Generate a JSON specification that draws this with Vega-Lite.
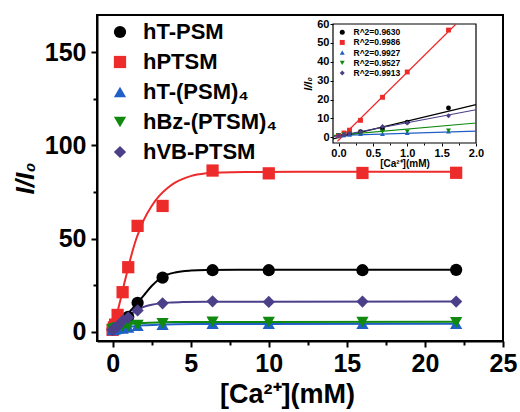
{
  "$schema": "https://vega.github.io/schema/vega-lite/v6.json",
  "width": 406,
  "height": 326,
  "autosize": {"type": "none"},
  "padding": {"left": 97, "top": 15, "right": 17, "bottom": 71},
  "background": "white",
  "config": {
    "font": "Liberation Sans",
    "view": {"stroke": "black", "strokeWidth": 2},
    "axis": {"grid": false, "labelColor": "black", "titleColor": "black", "tickColor": "black", "domainColor": "black", "labelFontWeight": "bold", "titleFontWeight": "bold", "labelFlush": false, "labelOverlap": false},
    "legend": {"padding": 0, "labelColor": "black", "labelFontWeight": "bold"}
  },
  "datasets": {
    "pts": [
      {"s": "hT-PSM", "x": 0, "y": 1}, {"s": "hT-PSM", "x": 0.08, "y": 1.3}, {"s": "hT-PSM", "x": 0.16, "y": 2}, {"s": "hT-PSM", "x": 0.32, "y": 3}, {"s": "hT-PSM", "x": 0.64, "y": 4.4}, {"s": "hT-PSM", "x": 1.0, "y": 8}, {"s": "hT-PSM", "x": 1.6, "y": 15.5}, {"s": "hT-PSM", "x": 3.2, "y": 29}, {"s": "hT-PSM", "x": 6.4, "y": 33}, {"s": "hT-PSM", "x": 10, "y": 33}, {"s": "hT-PSM", "x": 16, "y": 33}, {"s": "hT-PSM", "x": 22, "y": 33.2},
      {"s": "hPTSM", "x": 0, "y": 1}, {"s": "hPTSM", "x": 0.08, "y": 2.3}, {"s": "hPTSM", "x": 0.16, "y": 3.8}, {"s": "hPTSM", "x": 0.32, "y": 9}, {"s": "hPTSM", "x": 0.64, "y": 21.2}, {"s": "hPTSM", "x": 1.0, "y": 34.6}, {"s": "hPTSM", "x": 1.6, "y": 56.8}, {"s": "hPTSM", "x": 3.2, "y": 67.5}, {"s": "hPTSM", "x": 6.4, "y": 86.5}, {"s": "hPTSM", "x": 10, "y": 85}, {"s": "hPTSM", "x": 16, "y": 85.2}, {"s": "hPTSM", "x": 22, "y": 85.3},
      {"s": "hT-(PSM)₄", "x": 0, "y": 1}, {"s": "hT-(PSM)₄", "x": 0.08, "y": 1.2}, {"s": "hT-(PSM)₄", "x": 0.16, "y": 1.4}, {"s": "hT-(PSM)₄", "x": 0.32, "y": 1.8}, {"s": "hT-(PSM)₄", "x": 0.64, "y": 1.8}, {"s": "hT-(PSM)₄", "x": 1.0, "y": 2.3}, {"s": "hT-(PSM)₄", "x": 1.6, "y": 3.2}, {"s": "hT-(PSM)₄", "x": 3.2, "y": 3.8}, {"s": "hT-(PSM)₄", "x": 6.4, "y": 4.3}, {"s": "hT-(PSM)₄", "x": 10, "y": 4.3}, {"s": "hT-(PSM)₄", "x": 16, "y": 4.3}, {"s": "hT-(PSM)₄", "x": 22, "y": 4.3},
      {"s": "hBz-(PTSM)₄", "x": 0, "y": 1.2}, {"s": "hBz-(PTSM)₄", "x": 0.08, "y": 1.5}, {"s": "hBz-(PTSM)₄", "x": 0.16, "y": 1.8}, {"s": "hBz-(PTSM)₄", "x": 0.32, "y": 2.2}, {"s": "hBz-(PTSM)₄", "x": 0.64, "y": 3.0}, {"s": "hBz-(PTSM)₄", "x": 1.0, "y": 3.0}, {"s": "hBz-(PTSM)₄", "x": 1.6, "y": 3.6}, {"s": "hBz-(PTSM)₄", "x": 3.2, "y": 4.5}, {"s": "hBz-(PTSM)₄", "x": 6.4, "y": 5.3}, {"s": "hBz-(PTSM)₄", "x": 10, "y": 5.2}, {"s": "hBz-(PTSM)₄", "x": 16, "y": 5.2}, {"s": "hBz-(PTSM)₄", "x": 22, "y": 5.0},
      {"s": "hVB-PTSM", "x": 0, "y": 1}, {"s": "hVB-PTSM", "x": 0.08, "y": 1.5}, {"s": "hVB-PTSM", "x": 0.16, "y": 2}, {"s": "hVB-PTSM", "x": 0.32, "y": 2.8}, {"s": "hVB-PTSM", "x": 0.64, "y": 5.8}, {"s": "hVB-PTSM", "x": 1.0, "y": 7.6}, {"s": "hVB-PTSM", "x": 1.6, "y": 11.4}, {"s": "hVB-PTSM", "x": 3.2, "y": 15.2}, {"s": "hVB-PTSM", "x": 6.4, "y": 16.3}, {"s": "hVB-PTSM", "x": 10, "y": 16}, {"s": "hVB-PTSM", "x": 16, "y": 16.2}, {"s": "hVB-PTSM", "x": 22, "y": 16.2}
    ],
    "crv": [
      {"s": "hT-PSM", "x": 0, "y": 0.5}, {"s": "hT-PSM", "x": 0.5, "y": 5}, {"s": "hT-PSM", "x": 1.0, "y": 9.8}, {"s": "hT-PSM", "x": 1.5, "y": 14.5}, {"s": "hT-PSM", "x": 2.0, "y": 19.5}, {"s": "hT-PSM", "x": 2.5, "y": 24.5}, {"s": "hT-PSM", "x": 3.0, "y": 28.3}, {"s": "hT-PSM", "x": 3.5, "y": 30.6}, {"s": "hT-PSM", "x": 4.0, "y": 31.8}, {"s": "hT-PSM", "x": 5.0, "y": 32.8}, {"s": "hT-PSM", "x": 6.0, "y": 33.1}, {"s": "hT-PSM", "x": 8.0, "y": 33.2}, {"s": "hT-PSM", "x": 22, "y": 33.2},
      {"s": "hPTSM", "x": 0, "y": 0.5}, {"s": "hPTSM", "x": 0.25, "y": 8.5}, {"s": "hPTSM", "x": 0.5, "y": 17}, {"s": "hPTSM", "x": 0.75, "y": 26}, {"s": "hPTSM", "x": 1.0, "y": 34.5}, {"s": "hPTSM", "x": 1.25, "y": 42.5}, {"s": "hPTSM", "x": 1.5, "y": 49.5}, {"s": "hPTSM", "x": 1.75, "y": 55}, {"s": "hPTSM", "x": 2.0, "y": 60}, {"s": "hPTSM", "x": 2.5, "y": 67.5}, {"s": "hPTSM", "x": 3.0, "y": 73}, {"s": "hPTSM", "x": 3.5, "y": 77}, {"s": "hPTSM", "x": 4.0, "y": 80}, {"s": "hPTSM", "x": 4.5, "y": 82}, {"s": "hPTSM", "x": 5.0, "y": 83.5}, {"s": "hPTSM", "x": 6.0, "y": 85}, {"s": "hPTSM", "x": 7.0, "y": 85.5}, {"s": "hPTSM", "x": 8.5, "y": 85.7}, {"s": "hPTSM", "x": 12, "y": 85.8}, {"s": "hPTSM", "x": 22, "y": 85.8},
      {"s": "hT-(PSM)₄", "x": 0, "y": 0.3}, {"s": "hT-(PSM)₄", "x": 0.5, "y": 1.6}, {"s": "hT-(PSM)₄", "x": 1.0, "y": 2.4}, {"s": "hT-(PSM)₄", "x": 1.5, "y": 3.0}, {"s": "hT-(PSM)₄", "x": 2.0, "y": 3.4}, {"s": "hT-(PSM)₄", "x": 3.0, "y": 3.8}, {"s": "hT-(PSM)₄", "x": 4.0, "y": 4.0}, {"s": "hT-(PSM)₄", "x": 6.0, "y": 4.15}, {"s": "hT-(PSM)₄", "x": 22, "y": 4.2},
      {"s": "hBz-(PTSM)₄", "x": 0, "y": 2.3}, {"s": "hBz-(PTSM)₄", "x": 0.5, "y": 3.3}, {"s": "hBz-(PTSM)₄", "x": 1.0, "y": 4.0}, {"s": "hBz-(PTSM)₄", "x": 1.5, "y": 4.4}, {"s": "hBz-(PTSM)₄", "x": 2.0, "y": 4.7}, {"s": "hBz-(PTSM)₄", "x": 3.0, "y": 5.0}, {"s": "hBz-(PTSM)₄", "x": 4.0, "y": 5.15}, {"s": "hBz-(PTSM)₄", "x": 6.0, "y": 5.25}, {"s": "hBz-(PTSM)₄", "x": 22, "y": 5.3},
      {"s": "hVB-PTSM", "x": 0, "y": 0.5}, {"s": "hVB-PTSM", "x": 0.5, "y": 4.5}, {"s": "hVB-PTSM", "x": 1.0, "y": 8.3}, {"s": "hVB-PTSM", "x": 1.5, "y": 11.3}, {"s": "hVB-PTSM", "x": 2.0, "y": 13.3}, {"s": "hVB-PTSM", "x": 2.5, "y": 14.5}, {"s": "hVB-PTSM", "x": 3.0, "y": 15.2}, {"s": "hVB-PTSM", "x": 3.5, "y": 15.6}, {"s": "hVB-PTSM", "x": 4.5, "y": 15.9}, {"s": "hVB-PTSM", "x": 6.0, "y": 16.1}, {"s": "hVB-PTSM", "x": 22, "y": 16.2}
    ],
    "ipts": [
      {"f": "R^2=0.9630", "x": 0, "y": 1}, {"f": "R^2=0.9630", "x": 0.08, "y": 1.3}, {"f": "R^2=0.9630", "x": 0.16, "y": 2}, {"f": "R^2=0.9630", "x": 0.32, "y": 3}, {"f": "R^2=0.9630", "x": 0.64, "y": 4.4}, {"f": "R^2=0.9630", "x": 1.0, "y": 8}, {"f": "R^2=0.9630", "x": 1.6, "y": 15.5},
      {"f": "R^2=0.9986", "x": 0, "y": 1}, {"f": "R^2=0.9986", "x": 0.08, "y": 2.3}, {"f": "R^2=0.9986", "x": 0.16, "y": 3.8}, {"f": "R^2=0.9986", "x": 0.32, "y": 9}, {"f": "R^2=0.9986", "x": 0.64, "y": 21.2}, {"f": "R^2=0.9986", "x": 1.0, "y": 34.6}, {"f": "R^2=0.9986", "x": 1.6, "y": 56.8},
      {"f": "R^2=0.9927", "x": 0, "y": 1}, {"f": "R^2=0.9927", "x": 0.08, "y": 1.2}, {"f": "R^2=0.9927", "x": 0.16, "y": 1.4}, {"f": "R^2=0.9927", "x": 0.32, "y": 1.8}, {"f": "R^2=0.9927", "x": 0.64, "y": 1.8}, {"f": "R^2=0.9927", "x": 1.0, "y": 2.3}, {"f": "R^2=0.9927", "x": 1.6, "y": 3.2},
      {"f": "R^2=0.9527", "x": 0, "y": 1.2}, {"f": "R^2=0.9527", "x": 0.08, "y": 1.5}, {"f": "R^2=0.9527", "x": 0.16, "y": 1.8}, {"f": "R^2=0.9527", "x": 0.32, "y": 2.2}, {"f": "R^2=0.9527", "x": 0.64, "y": 3.0}, {"f": "R^2=0.9527", "x": 1.0, "y": 3.0}, {"f": "R^2=0.9527", "x": 1.6, "y": 3.6},
      {"f": "R^2=0.9913", "x": 0, "y": 1}, {"f": "R^2=0.9913", "x": 0.08, "y": 1.5}, {"f": "R^2=0.9913", "x": 0.16, "y": 2}, {"f": "R^2=0.9913", "x": 0.32, "y": 2.8}, {"f": "R^2=0.9913", "x": 0.64, "y": 5.8}, {"f": "R^2=0.9913", "x": 1.0, "y": 7.6}, {"f": "R^2=0.9913", "x": 1.6, "y": 11.4}
    ],
    "fit": [
      {"f": "R^2=0.9630", "x": -0.08, "y": -0.8}, {"f": "R^2=0.9630", "x": 2.0, "y": 17.3},
      {"f": "R^2=0.9986", "x": -0.015, "y": -2.1}, {"f": "R^2=0.9986", "x": 1.71, "y": 60},
      {"f": "R^2=0.9927", "x": -0.08, "y": 0.9}, {"f": "R^2=0.9927", "x": 2.0, "y": 3.3},
      {"f": "R^2=0.9527", "x": -0.08, "y": 0.9}, {"f": "R^2=0.9527", "x": 2.0, "y": 7.6},
      {"f": "R^2=0.9913", "x": -0.08, "y": 0.3}, {"f": "R^2=0.9913", "x": 2.0, "y": 14.6}
    ]
  },
  "layer": [
    {
      "data": {"name": "crv"},
      "mark": {"type": "line", "interpolate": "monotone", "strokeWidth": 2},
      "encoding": {
        "x": {"field": "x", "type": "quantitative", "scale": {"domain": [-1, 25], "nice": false, "zero": false},
          "axis": {"orient": "bottom", "values": [0, 2.5, 5, 7.5, 10, 12.5, 15, 17.5, 20, 22.5, 25], "labelExpr": "datum.value % 5 == 0 ? datum.label : ''", "tickSize": {"condition": {"test": "datum.value % 5 == 0", "value": 6}, "value": 4}, "tickWidth": 2, "domainWidth": 2, "labelFontSize": 25, "labelPadding": 4, "title": "[Ca²⁺](mM)", "titleFontSize": 27, "titlePadding": 5, "titleX": 190}},
        "y": {"field": "y", "type": "quantitative", "scale": {"domain": [-5, 170], "nice": false, "zero": false},
          "axis": {"orient": "left", "values": [0, 25, 50, 75, 100, 125, 150], "labelExpr": "datum.value % 50 == 0 ? datum.label : ''", "tickSize": {"condition": {"test": "datum.value % 50 == 0", "value": 6}, "value": 4}, "tickWidth": 2, "domainWidth": 2, "labelFontSize": 25, "labelPadding": 5, "title": "I/I₀", "titleFontSize": 26, "titleFontStyle": "italic", "titlePadding": 6}},
        "stroke": {"field": "s", "type": "nominal", "scale": {"domain": ["hT-PSM", "hPTSM", "hT-(PSM)₄", "hBz-(PTSM)₄", "hVB-PTSM"], "range": ["#000000", "#ee2b2b", "#1f5fc6", "#0f8a0f", "#4b3f8a"]}, "legend": null}
      }
    },
    {
      "data": {"name": "pts"},
      "mark": {"type": "point", "filled": true, "opacity": 1},
      "encoding": {
        "x": {"field": "x", "type": "quantitative", "scale": {"domain": [-1, 25], "nice": false, "zero": false}, "axis": null},
        "y": {"field": "y", "type": "quantitative", "scale": {"domain": [-5, 170], "nice": false, "zero": false}, "axis": null},
        "size": {"field": "s", "type": "nominal", "scale": {"domain": ["hT-PSM", "hPTSM", "hT-(PSM)₄", "hBz-(PTSM)₄", "hVB-PTSM"], "range": [150, 150, 150, 150, 210]}, "legend": null},
        "color": {"field": "s", "type": "nominal", "scale": {"domain": ["hT-PSM", "hPTSM", "hT-(PSM)₄", "hBz-(PTSM)₄", "hVB-PTSM"], "range": ["#000000", "#ee2b2b", "#1f5fc6", "#0f8a0f", "#4b3f8a"]},
          "legend": {"orient": "none", "legendX": 12, "legendY": 6, "title": null, "labelFontSize": 22, "symbolSize": 180, "rowPadding": 8, "labelOffset": 12, "labelLimit": 300}},
        "shape": {"field": "s", "type": "nominal", "scale": {"domain": ["hT-PSM", "hPTSM", "hT-(PSM)₄", "hBz-(PTSM)₄", "hVB-PTSM"], "range": ["circle", "square", "triangle-up", "triangle-down", "diamond"]}}
      }
    },
    {
      "data": {"values": [{}]},
      "mark": {"type": "rect", "filled": false, "stroke": "black", "strokeWidth": 1.2},
      "encoding": {
        "x": {"datum": -0.08, "type": "quantitative", "scale": {"domain": [-0.08, 2.0], "range": [236, 379], "nice": false, "zero": false},
          "axis": {"orient": "bottom", "offset": -198, "domain": false, "values": [0, 0.25, 0.5, 0.75, 1, 1.25, 1.5, 1.75, 2], "labelExpr": "(datum.value * 2) % 1 == 0 ? format(datum.value, '.1f') : ''", "tickSize": {"condition": {"test": "(datum.value * 2) % 1 == 0", "value": 3}, "value": 2}, "tickWidth": 1, "labelFontSize": 11, "labelPadding": 1, "title": "[Ca²⁺](mM)", "titleFontSize": 10, "titlePadding": 0}},
        "x2": {"datum": 2.0},
        "y": {"datum": -3, "type": "quantitative", "scale": {"domain": [-3, 60], "range": [128, 9], "nice": false, "zero": false},
          "axis": {"orient": "left", "offset": -236, "domain": false, "values": [0, 10, 20, 30, 40, 50, 60], "tickSize": 3, "tickWidth": 1, "labelFontSize": 11, "labelPadding": 1, "title": "I/I₀", "titleFontSize": 11, "titleFontStyle": "italic", "titlePadding": 3}},
        "y2": {"datum": 60}
      }
    },
    {
      "data": {"name": "fit"},
      "mark": {"type": "line", "strokeWidth": 1.2},
      "encoding": {
        "x": {"field": "x", "type": "quantitative", "scale": {"domain": [-0.08, 2.0], "range": [236, 379], "nice": false, "zero": false}, "axis": null},
        "y": {"field": "y", "type": "quantitative", "scale": {"domain": [-3, 60], "range": [128, 9], "nice": false, "zero": false}, "axis": null},
        "stroke": {"field": "f", "type": "nominal", "scale": {"domain": ["R^2=0.9630", "R^2=0.9986", "R^2=0.9927", "R^2=0.9527", "R^2=0.9913"], "range": ["#000000", "#ee2b2b", "#1f5fc6", "#0f8a0f", "#4b3f8a"]}, "legend": null}
      }
    },
    {
      "data": {"name": "ipts"},
      "mark": {"type": "point", "filled": true, "size": 24, "opacity": 1},
      "encoding": {
        "x": {"field": "x", "type": "quantitative", "scale": {"domain": [-0.08, 2.0], "range": [236, 379], "nice": false, "zero": false}, "axis": null},
        "y": {"field": "y", "type": "quantitative", "scale": {"domain": [-3, 60], "range": [128, 9], "nice": false, "zero": false}, "axis": null},
        "color": {"field": "f", "type": "nominal", "scale": {"domain": ["R^2=0.9630", "R^2=0.9986", "R^2=0.9927", "R^2=0.9527", "R^2=0.9913"], "range": ["#000000", "#ee2b2b", "#1f5fc6", "#0f8a0f", "#4b3f8a"]},
          "legend": {"orient": "none", "legendX": 241, "legendY": 13, "title": null, "labelFontSize": 8.5, "symbolSize": 25, "rowPadding": 1.2, "labelOffset": 7}},
        "shape": {"field": "f", "type": "nominal", "scale": {"domain": ["R^2=0.9630", "R^2=0.9986", "R^2=0.9927", "R^2=0.9527", "R^2=0.9913"], "range": ["circle", "square", "triangle-up", "triangle-down", "diamond"]}}
      }
    }
  ],
  "resolve": {
    "scale": {"x": "independent", "y": "independent", "color": "independent", "shape": "independent", "stroke": "independent", "size": "independent"},
    "axis": {"x": "independent", "y": "independent"},
    "legend": {"color": "independent", "shape": "independent"}
  }
}
